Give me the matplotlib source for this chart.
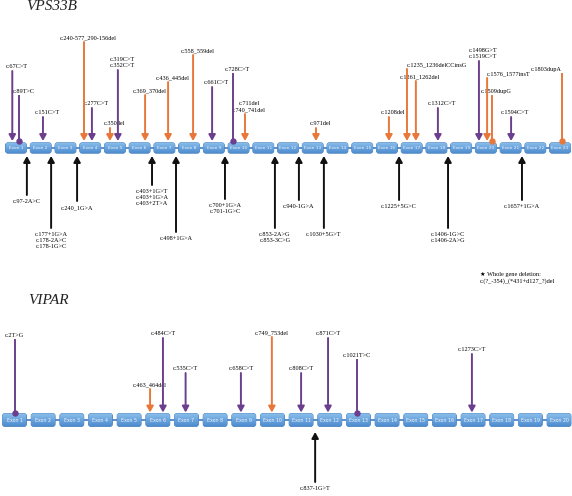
import matplotlib
matplotlib.use('Agg')
import numpy as np
import matplotlib.pyplot as plt
from matplotlib.patches import FancyBboxPatch
from matplotlib.transforms import offset_copy

W, H = 572, 496
PURPLE = '#6b3f8e'
ORANGE = '#e8783a'
BLACK = '#111111'
SERIF = ['Liberation Serif', 'DejaVu Serif']
COLORS = {'sub': PURPLE, 'indel': ORANGE}

# ---- VPS33B (23 exons) ----
vps_n_exons = 23
vps_top_labels = ['c.67C>T', 'c.89T>C', 'c.151C>T', 'c.240-577_290-156del', 'c.277C>T',
                  'c.350del', 'c.319C>T\nc.352C>T', 'c.369_370del', 'c.436_445del',
                  'c.558_559del', 'c.661C>T', 'c.728C>T', 'c.711del\nc.740_741del',
                  'c.971del', 'c.1208del', 'c.1235_1236delCCinsG', 'c.1261_1262del',
                  'c.1312C>T', 'c.1498G>T\nc.1519C>T', 'c.1576_1577insT', 'c.1509dupG',
                  'c.1594C>T', 'c.1803dupA']
vps_top_pos = [0.85, 1.13, 2.09, 3.75, 4.07, 4.80, 5.12, 6.22, 7.15, 8.16, 8.93, 9.77,
               10.26, 13.13, 16.08, 16.81, 17.17, 18.06, 19.72, 20.05, 20.25, 21.02, 23.08]
vps_top_height = [77, 52, 31, 106, 40, 20, 78, 53, 66, 93, 61, 74, 34, 20, 31, 79, 67,
                  40, 87, 70, 52, 31, 74]
vps_top_kind = ['sub', 'sub', 'sub', 'indel', 'sub', 'indel', 'sub', 'indel', 'indel',
                'indel', 'sub', 'sub', 'indel', 'indel', 'indel', 'indel', 'indel', 'sub',
                'sub', 'indel', 'indel', 'sub', 'indel']
vps_top_end = ['arrow', 'dot', 'arrow', 'arrow', 'arrow', 'arrow', 'arrow', 'arrow', 'arrow',
               'arrow', 'arrow', 'dot', 'arrow', 'arrow', 'arrow', 'arrow', 'arrow', 'arrow',
               'arrow', 'arrow', 'dot', 'arrow', 'dot']
vps_top_ha = ['center'] * 15 + ['left', 'center', 'center', 'center', 'left', 'center',
                                'center', 'right']

vps_bot_labels = ['c.97-2A>C', 'c.177+1G>A\nc.178-2A>C\nc.178-1G>C', 'c.240_1G>A',
                  'c.403+1G>T\nc.403+1G>A\nc.403+2T>A', 'c.498+1G>A',
                  'c.700+1G>A\nc.701-1G>C', 'c.853-2A>G\nc.853-3C>G', 'c.940-1G>A',
                  'c.1030+5G>T', 'c.1225+5G>C', 'c.1406-1G>C\nc.1406-2A>G', 'c.1657+1G>A']
vps_bot_pos = [1.44, 2.42, 3.47, 6.50, 7.47, 9.45, 11.47, 12.44, 13.45, 16.49, 18.47, 21.46]
vps_bot_depth = [47, 80, 53, 37, 84, 51, 80, 52, 80, 52, 80, 52]

# ---- VIPAR (20 exons) ----
vip_n_exons = 20
vip_top_labels = ['c.2T>G', 'c.463_464del', 'c.484C>T', 'c.535C>T', 'c.658C>T',
                  'c.749_753del', 'c.808C>T', 'c.871C>T', 'c.1021T>C', 'c.1273C>T']
vip_top_pos = [1.0, 5.73, 6.18, 6.97, 8.90, 9.98, 11.0, 11.94, 12.95, 16.96]
vip_top_height = [80, 31, 82, 47, 47, 83, 47, 82, 60, 66]
vip_top_kind = ['sub', 'indel', 'sub', 'sub', 'sub', 'indel', 'sub', 'sub', 'sub', 'sub']
vip_top_end = ['dot', 'arrow', 'arrow', 'arrow', 'arrow', 'arrow', 'arrow', 'arrow', 'dot',
               'arrow']

vip_bot_labels = ['c.837-1G>T']
vip_bot_pos = [11.49]
vip_bot_depth = [62]

NOTE = '\u2605 Whole gene deletion:\nc.(?_-354)_(*431+d127_?)del'


def make_axes(fig, top_px, bot_px):
    ax = fig.add_axes([0, 1 - bot_px / H, 1, (bot_px - top_px) / H])
    ax.axis('off')
    return ax


def set_limits(ax, top_px, bot_px, row_px, x0_px, pitch):
    ax.set_xlim(1 - x0_px / pitch, 1 + (W - x0_px) / pitch)
    ax.set_ylim(row_px - bot_px, row_px - top_px)


def draw_exons(ax, n, pitch, box_w_px, box_h, fs):
    bw = box_w_px / pitch
    ax.plot([1, n], [0, 0], color='#4f86c4', lw=1.3, zorder=1)
    grad = np.linspace(0, 1, 32).reshape(-1, 1)
    cmap = matplotlib.colors.LinearSegmentedColormap.from_list('ex', ['#4f8dd0', '#8cc0ec'])
    for i in range(1, n + 1):
        box = FancyBboxPatch((i - bw / 2, -box_h / 2), bw, box_h,
                             boxstyle='round,pad=0,rounding_size=%f' % (2.5 / pitch),
                             mutation_aspect=pitch, fc='#6aa6dd', ec='#4a82c0', lw=0.6,
                             zorder=2)
        ax.add_patch(box)
        im = ax.imshow(grad, extent=(i - bw / 2, i + bw / 2, -box_h / 2, box_h / 2),
                       origin='lower', aspect='auto', cmap=cmap, zorder=2.5)
        im.set_clip_path(box)
        ax.text(i, 0, 'Exon %d' % i, ha='center', va='center', fontsize=fs,
                color='#eef4fb', zorder=3)


def draw_top(ax, labels, pos, heights, kinds, ends, tip, has=None, shift=0):
    # centred labels in the VPS33B panel sit a few pixels right of their stems
    shifted = offset_copy(ax.transData, fig=ax.figure, x=shift, units='points')
    for k in range(len(labels)):
        c = COLORS[kinds[k]]
        x, h = pos[k], heights[k]
        if ends[k] == 'arrow':
            ax.annotate('', xy=(x, tip), xytext=(x, h),
                        arrowprops=dict(arrowstyle='-|>,head_length=0.45,head_width=0.25',
                                        color=c, lw=1.4, shrinkA=0, shrinkB=0,
                                        mutation_scale=8), zorder=4)
        else:
            ax.plot([x, x], [h, tip], color=c, lw=1.4, zorder=4)
            ax.plot(x, tip, 'o', ms=3.6, color=c, zorder=5)
        ha = has[k] if has else 'center'
        tr = shifted if ha == 'center' else ax.transData
        ax.text(x, h + 2, labels[k], ha=ha, va='bottom', fontsize=4.5, family=SERIF,
                linespacing=1.3, transform=tr)


def draw_bottom(ax, labels, pos, depths, tip):
    for k in range(len(labels)):
        x, d = pos[k], -depths[k]
        ax.annotate('', xy=(x, tip), xytext=(x, d),
                    arrowprops=dict(arrowstyle='-|>,head_length=0.45,head_width=0.25',
                                    color=BLACK, lw=1.4, shrinkA=0, shrinkB=0,
                                    mutation_scale=8), zorder=4)
        ax.text(x, d - 4, labels[k], ha='center', va='top', fontsize=4.5, family=SERIF,
                linespacing=1.3)


fig = plt.figure(figsize=(W / 100, H / 100), dpi=100)

# VPS33B panel: exon row at y=148 px, exon 1 at x=16 px, 24.73 px per exon
ax1 = make_axes(fig, 0, 260)
set_limits(ax1, 0, 260, 148, 16, 24.73)
draw_exons(ax1, vps_n_exons, 24.73, 21, 10.5, 3.1)
draw_top(ax1, vps_top_labels, vps_top_pos, vps_top_height, vps_top_kind, vps_top_end, 7,
         vps_top_ha, shift=3)
draw_bottom(ax1, vps_bot_labels, vps_bot_pos, vps_bot_depth, -8)
set_limits(ax1, 0, 260, 148, 16, 24.73)

# VIPAR panel: exon row at y=420 px, exon 1 at x=14.5 px, 28.66 px per exon
ax2 = make_axes(fig, 260, 496)
set_limits(ax2, 260, 496, 420, 14.5, 28.66)
draw_exons(ax2, vip_n_exons, 28.66, 24, 13, 3.4)
draw_top(ax2, vip_top_labels, vip_top_pos, vip_top_height, vip_top_kind, vip_top_end, 7.5)
draw_bottom(ax2, vip_bot_labels, vip_bot_pos, vip_bot_depth, -12)
set_limits(ax2, 260, 496, 420, 14.5, 28.66)

fig.text(52 / W, 1 - 6 / H, 'VPS33B', style='italic', fontsize=11, family=SERIF,
         ha='center', va='center', color='#222222')
fig.text(49 / W, 1 - 301 / H, 'VIPAR', style='italic', fontsize=11, family=SERIF,
         ha='center', va='center', color='#222222')
fig.text(480 / W, 1 - 277.5 / H, NOTE, ha='left', va='center', fontsize=4.5,
         family=['Liberation Serif', 'DejaVu Sans'], linespacing=1.25)

fig.savefig('out.png', dpi=100)
